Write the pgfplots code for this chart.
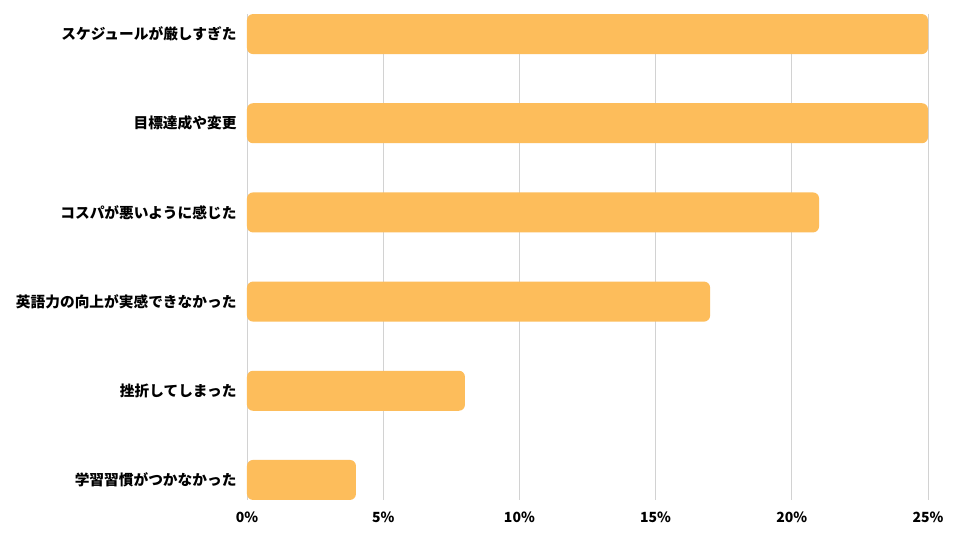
\documentclass[border=0pt]{standalone}
\usepackage{fontspec}
\setmainfont{Noto Sans CJK JP}
\usepackage{pgfplots}
\pgfplotsset{compat=1.18}
\definecolor{barorange}{RGB}{253,189,91}
\definecolor{gridgray}{RGB}{210,210,210}

\pgfplotstableread{
pos value
0 25
1 25
2 21
3 17
4 8
5 4
}\reasons

\begin{document}
\begin{tikzpicture}
  \path[use as bounding box, fill=white] (-247pt,-40pt) rectangle (713pt,500pt);
  \begin{axis}[
    at={(0pt,0pt)}, anchor=south west,
    scale only axis,
    width=681pt, height=486pt,
    xmin=0, xmax=25,
    ymin=-0.225, ymax=5.225,
    y dir=reverse,
    xbar, bar width=40pt, bar shift=0pt,
    axis line style={draw=none},
    major tick length=0pt,
    xtick={0,5,...,25},
    xticklabel={\pgfmathprintnumber{\tick}\%},
    ytick={0,...,5},
    yticklabels={スケジュールが厳しすぎた, 目標達成や変更, コスパが悪いように感じた,
      英語力の向上が実感できなかった, 挫折してしまった, 学習習慣がつかなかった},
    xmajorgrids, ymajorgrids=false,
    major grid style={draw=gridgray, line width=0.8pt},
    tick label style={text=black},
    xticklabel style={font=\fontsize{14}{16}\selectfont\bfseries, yshift=-8pt},
    yticklabel style={font=\fontsize{14.7}{17}\selectfont\bfseries, xshift=-7pt},
    /pgf/number format/assume math mode=true,
    clip=false,
  ]
    \addplot[fill=barorange, draw=none, rounded corners=6pt] table[x=value, y=pos] {\reasons};
  \end{axis}
\end{tikzpicture}
\end{document}
